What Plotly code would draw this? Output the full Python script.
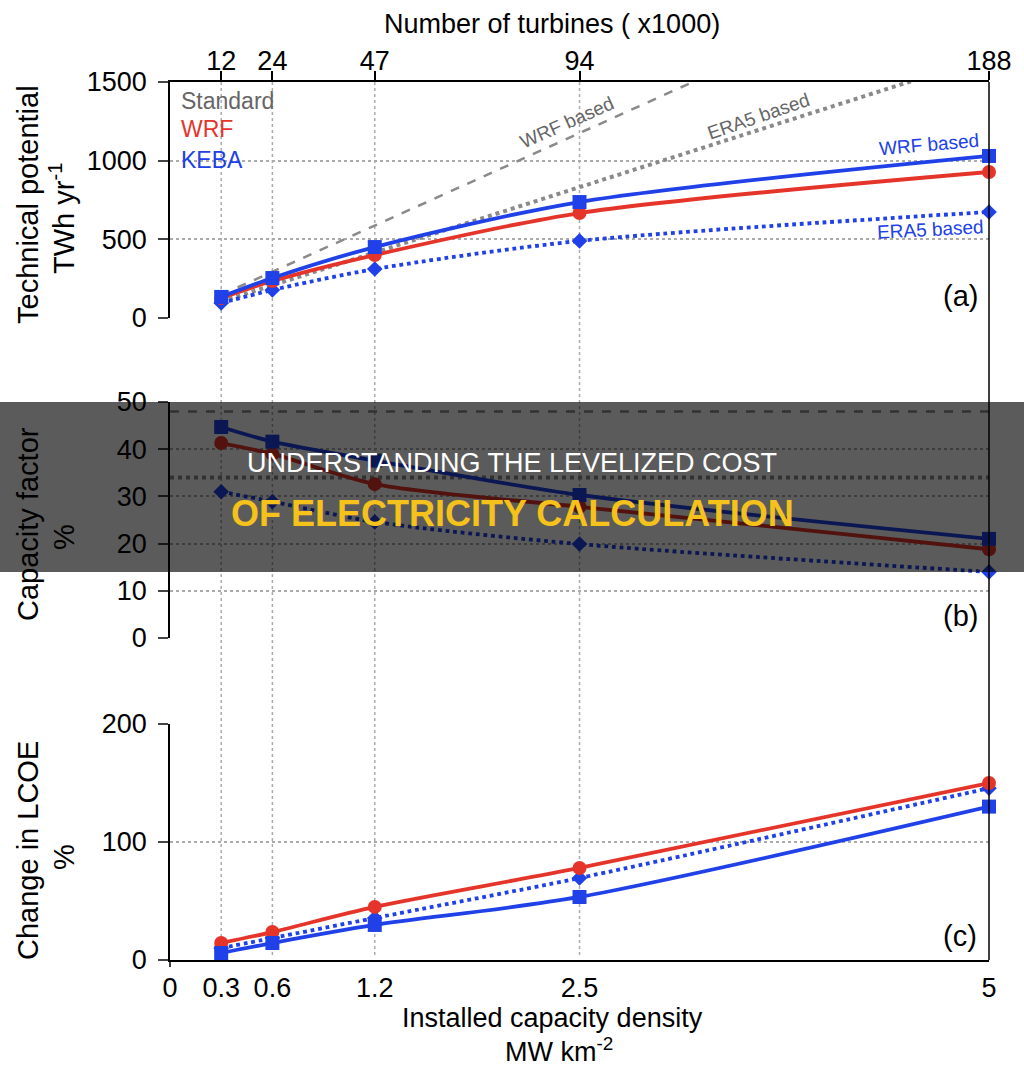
import plotly.graph_objects as go

# ---------------- data ----------------
density = [0.3125, 0.625, 1.25, 2.5, 5]
density_labels = ["0.3", "0.6", "1.2", "2.5", "5"]
turbines = ["12", "24", "47", "94", "188"]

standard_wrf_tp = [147, 294, 588, 1175, 2350]
standard_era5_tp = [104, 208, 416, 831, 1663]
wrf_tp = [127, 235, 400, 667, 928]
keba_wrf_tp = [134, 254, 451, 737, 1030]
keba_era5_tp = [95, 178, 311, 490, 674]

standard_cf_x = [0, 5]
standard_wrf_cf = [48, 48]
standard_era5_cf = [34, 34]
wrf_cf = [41.3, 39.0, 32.6, 27.8, 18.8]
keba_wrf_cf = [44.7, 41.6, 37.6, 30.3, 21.0]
keba_era5_cf = [31.0, 28.9, 24.6, 19.9, 14.0]

wrf_lcoe = [14.4, 23.7, 45.0, 78.0, 150.0]
keba_wrf_lcoe = [5.9, 14.4, 29.7, 53.4, 130.0]
keba_era5_lcoe = [10.0, 18.6, 35.6, 69.5, 145.6]

tp_ticks = [0, 500, 1000, 1500]
cf_ticks = [0, 10, 20, 30, 40, 50]
lcoe_ticks = [0, 100, 200]

# ---------------- style ----------------
W, H = 1024, 1073
FONT = "Liberation Sans"
RED = "#e5352b"
BLUE = "#2040e8"
GRAY = "#8a8a8a"
GRID = "#ababab"


def px(x):
    return x / W


def py(y):
    return 1 - y / H


XL, XR = 170, 989
XD = [px(XL), px(XR)]
YA = [py(318), py(82)]
YB = [py(638), py(402)]
YC = [py(960), py(724)]

fig = go.Figure()


def add(x, y, color, dash, marker, size, row, width=3.8, clip=False):
    xa = "x" if row == 1 else "x%d" % row
    ya = "y" if row == 1 else "y%d" % row
    fig.add_trace(go.Scatter(
        x=x, y=y, xaxis=xa, yaxis=ya,
        mode="lines+markers" if marker else "lines",
        line=dict(color=color, width=width, dash=dash,
                  shape="spline" if marker else "linear", smoothing=0.8),
        marker=dict(symbol=marker, size=size, color=color) if marker else None,
        cliponaxis=clip, showlegend=False, hoverinfo="skip"))


# panel a
add(density, standard_wrf_tp, GRAY, "dash", None, 0, 1, width=2.5, clip=True)
add(density, standard_era5_tp, GRAY, "dot", None, 0, 1, width=4, clip=True)
add(density, keba_era5_tp, BLUE, "dot", "diamond", 12, 1)
add(density, wrf_tp, RED, "solid", "circle", 14, 1)
add(density, keba_wrf_tp, BLUE, "solid", "square", 14, 1)
# panel b
add(standard_cf_x, standard_wrf_cf, GRAY, "dash", None, 0, 2, width=2.5, clip=True)
add(standard_cf_x, standard_era5_cf, GRAY, "dot", None, 0, 2, width=4, clip=True)
add(density, keba_era5_cf, BLUE, "dot", "diamond", 12, 2)
add(density, wrf_cf, RED, "solid", "circle", 14, 2)
add(density, keba_wrf_cf, BLUE, "solid", "square", 14, 2)
# panel c
add(density, keba_era5_lcoe, BLUE, "dot", "diamond", 12, 3)
add(density, wrf_lcoe, RED, "solid", "circle", 14, 3)
add(density, keba_wrf_lcoe, BLUE, "solid", "square", 14, 3)

tickfont = dict(family=FONT, size=27, color="black")
yax_common = dict(
    showline=True, linecolor="black", linewidth=1.5,
    ticks="outside", ticklen=10, tickwidth=1.5, tickcolor="#444",
    showgrid=True, gridcolor=GRID, griddash="dot", gridwidth=1.5,
    zeroline=False, tickfont=tickfont, ticklabelstandoff=6, fixedrange=True,
    automargin=False)

fig.update_layout(
    template="none",
    width=W, height=H, margin=dict(l=0, r=0, t=0, b=0, pad=0),
    paper_bgcolor="white", plot_bgcolor="white",
    font=dict(family=FONT, color="black"),
    showlegend=False,
    xaxis=dict(domain=XD, range=[0, 5], anchor="y", side="top",
               tickvals=density, ticktext=turbines, ticks="outside",
               ticklen=9, tickwidth=1.5, tickcolor="black",
               showline=True, linecolor="black", linewidth=1.5,
               showgrid=False, zeroline=False, tickfont=tickfont,
               ticklabelstandoff=-10, automargin=False),
    yaxis=dict(domain=YA, range=[0, 1500], tickvals=tp_ticks, anchor="x", **yax_common),
    xaxis2=dict(domain=XD, range=[0, 5], anchor="y2", showticklabels=False,
                showline=False, showgrid=False, zeroline=False, ticks="",
                automargin=False),
    yaxis2=dict(domain=YB, range=[0, 50], tickvals=cf_ticks, anchor="x2", **yax_common),
    xaxis3=dict(domain=XD, range=[0, 5], anchor="y3",
                tickvals=[0] + density, ticktext=["0"] + density_labels,
                ticks="", showline=True, linecolor="black", linewidth=1.5,
                showgrid=False, zeroline=False, tickfont=tickfont,
                ticklabelstandoff=3, automargin=False),
    yaxis3=dict(domain=YC, range=[0, 200], tickvals=lcoe_ticks, anchor="x3", **yax_common),
)

shapes = []
# vertical dotted gridlines spanning all panels
for d in density[:-1]:
    shapes.append(dict(type="line", xref="x", yref="paper", x0=d, x1=d,
                       y0=py(955), y1=py(82),
                       line=dict(color=GRID, width=1.5, dash="dot"), layer="below"))
# right spine
shapes.append(dict(type="line", xref="paper", yref="paper", x0=px(XR), x1=px(XR),
                   y0=py(960), y1=py(82), line=dict(color="black", width=1.5)))
# left spine extension below panel c
shapes.append(dict(type="line", xref="paper", yref="paper", x0=px(XL), x1=px(XL),
                   y0=py(967), y1=py(960), line=dict(color="black", width=1.5)))
# dark banner overlay
shapes.append(dict(type="rect", xref="paper", yref="paper", x0=0, x1=1,
                   y0=py(572), y1=py(402), fillcolor="rgba(0,0,0,0.645)",
                   line=dict(width=0), layer="above"))
fig.update_layout(shapes=shapes)

ann = []


def text(x, y, s, size, color="black", angle=0, xanchor="center", yanchor="middle", **kw):
    ann.append(dict(x=px(x), y=py(y), xref="paper", yref="paper", text=s,
                    showarrow=False, textangle=angle, xanchor=xanchor, yanchor=yanchor,
                    font=dict(family=FONT, size=size, color=color), **kw))


text(552, 24, "Number of turbines ( x1000)", 27)
text(552, 1018, "Installed capacity density", 27)
text(559, 1050, "MW km<sup>-2</sup>", 27)
text(28, 205, "Technical potential", 29, angle=-90)
text(62, 219, "TWh yr<sup>-1</sup>", 29, angle=-90)
text(28, 524, "Capacity factor", 29, angle=-90)
text(64, 537, "%", 29, angle=-90)
text(28, 851, "Change in LCOE", 29, angle=-90)
text(64, 857, "%", 29, angle=-90)

text(179, 101, "Standard", 23, color="#666666", xanchor="left")
text(179, 129, "WRF", 23, color=RED, xanchor="left")
text(179, 160, "KEBA", 23, color=BLUE, xanchor="left")

text(567, 123, "WRF based", 19, color="#666666", angle=-24)
text(758, 116, "ERA5 based", 19, color="#666666", angle=-19)
text(929, 145, "WRF based", 19, color=BLUE, angle=-5)
text(930, 230, "ERA5 based", 19, color=BLUE, angle=-3)

text(960, 296, "(a)", 29)
text(960, 616, "(b)", 29)
text(960, 936, "(c)", 29)

text(512, 463, "UNDERSTANDING THE LEVELIZED COST", 27, color="white")
text(512, 513, "<b>OF ELECTRICITY CALCULATION</b>", 36, color="#f5c21b")

fig.update_layout(annotations=ann)

fig.write_html("out.html")
